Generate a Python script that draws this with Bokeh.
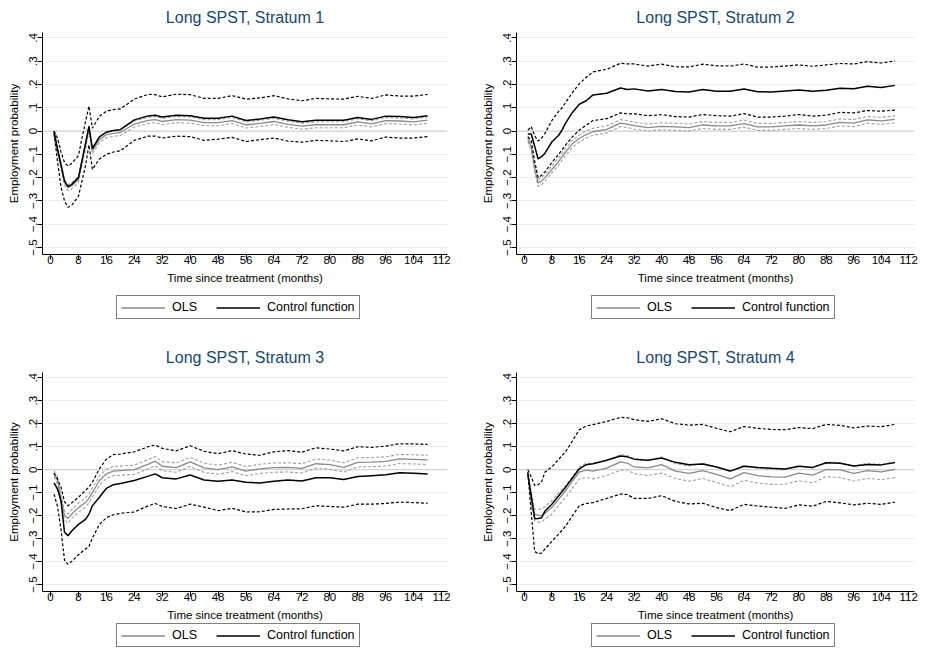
from bokeh.plotting import figure
from bokeh.models import Legend, LegendItem, FixedTicker, Range1d, Span
from bokeh.layouts import column, row
from bokeh.embed import file_html
from bokeh.resources import INLINE

# ---------------- data ----------------
months = [1, 2, 3, 4, 5, 6, 8, 10, 11, 12, 14, 16, 18, 20, 24, 28, 30, 32, 36, 40,
          44, 48, 52, 56, 60, 64, 68, 72, 76, 80, 84, 88, 92, 96, 100, 104, 108]

titles = ["Long SPST, Stratum 1", "Long SPST, Stratum 2",
          "Long SPST, Stratum 3", "Long SPST, Stratum 4"]
legend_labels = ["OLS", "Control function"]

# Stratum 1
s1_cf = [0.0, -0.076, -0.145, -0.215, -0.238, -0.23, -0.2, -0.055, 0.02, -0.075, -0.025, -0.005, 0.002, 0.006, 0.048, 0.065, 0.068, 0.06, 0.068, 0.066,
         0.055, 0.055, 0.064, 0.045, 0.052, 0.06, 0.048, 0.04, 0.046, 0.046, 0.046, 0.058, 0.05, 0.064, 0.062, 0.058, 0.066]
s1_cf_hi = [0.0, -0.03, -0.09, -0.135, -0.15, -0.14, -0.105, 0.04, 0.107, 0.012, 0.063, 0.085, 0.092, 0.095, 0.137, 0.158, 0.156, 0.147, 0.158, 0.156,
            0.14, 0.14, 0.152, 0.137, 0.142, 0.152, 0.138, 0.13, 0.14, 0.138, 0.137, 0.149, 0.14, 0.155, 0.15, 0.15, 0.157]
s1_cf_lo = [-0.01, -0.13, -0.24, -0.3, -0.327, -0.32, -0.28, -0.15, -0.06, -0.165, -0.12, -0.1, -0.09, -0.085, -0.04, -0.022, -0.022, -0.03, -0.022, -0.024,
            -0.04, -0.035, -0.027, -0.045, -0.037, -0.03, -0.043, -0.048, -0.04, -0.042, -0.045, -0.034, -0.042, -0.026, -0.03, -0.03, -0.024]
s1_ols = [-0.01, -0.085, -0.15, -0.22, -0.243, -0.236, -0.208, -0.065, 0.01, -0.085, -0.038, -0.015, -0.01, -0.006, 0.03, 0.046, 0.049, 0.041, 0.049, 0.047,
          0.036, 0.036, 0.045, 0.026, 0.033, 0.041, 0.029, 0.021, 0.027, 0.027, 0.027, 0.039, 0.031, 0.045, 0.043, 0.039, 0.047]
s1_ols_hi = [0.0, -0.072, -0.137, -0.207, -0.23, -0.223, -0.195, -0.052, 0.023, -0.072, -0.025, -0.002, 0.003, 0.007, 0.043, 0.059, 0.062, 0.054, 0.062, 0.06,
             0.049, 0.049, 0.058, 0.039, 0.046, 0.054, 0.042, 0.034, 0.04, 0.04, 0.04, 0.052, 0.044, 0.058, 0.056, 0.052, 0.06]
s1_ols_lo = [-0.02, -0.098, -0.163, -0.233, -0.256, -0.249, -0.221, -0.078, -0.003, -0.098, -0.051, -0.028, -0.023, -0.019, 0.017, 0.033, 0.036, 0.028, 0.036, 0.034,
             0.023, 0.023, 0.032, 0.013, 0.02, 0.028, 0.016, 0.008, 0.014, 0.014, 0.014, 0.026, 0.018, 0.032, 0.03, 0.026, 0.034]

# Stratum 2
s2_cf = [-0.013, -0.013, -0.065, -0.12, -0.11, -0.095, -0.047, -0.018, 0.005, 0.034, 0.08, 0.115, 0.13, 0.155, 0.162, 0.185, 0.178, 0.181, 0.172, 0.178,
         0.17, 0.168, 0.178, 0.171, 0.171, 0.18, 0.169, 0.168, 0.172, 0.176, 0.171, 0.175, 0.184, 0.182, 0.192, 0.187, 0.196]
s2_cf_hi = [0.004, 0.019, -0.02, -0.043, -0.03, -0.01, 0.045, 0.085, 0.1, 0.122, 0.165, 0.203, 0.23, 0.254, 0.265, 0.291, 0.288, 0.288, 0.279, 0.287,
            0.276, 0.275, 0.287, 0.28, 0.279, 0.288, 0.274, 0.275, 0.279, 0.284, 0.278, 0.284, 0.29, 0.288, 0.298, 0.292, 0.301]
s2_cf_lo = [-0.025, -0.04, -0.13, -0.2, -0.19, -0.175, -0.135, -0.1, -0.08, -0.06, -0.025, 0.004, 0.025, 0.045, 0.053, 0.078, 0.074, 0.074, 0.066, 0.07,
            0.062, 0.06, 0.071, 0.066, 0.064, 0.075, 0.06, 0.06, 0.064, 0.071, 0.064, 0.068, 0.08, 0.078, 0.088, 0.085, 0.09]
s2_ols = [-0.032, -0.07, -0.16, -0.223, -0.215, -0.2, -0.165, -0.13, -0.11, -0.09, -0.055, -0.032, -0.015, -0.003, 0.007, 0.034, 0.03, 0.023, 0.015, 0.02,
          0.018, 0.015, 0.026, 0.022, 0.022, 0.032, 0.018, 0.018, 0.022, 0.026, 0.022, 0.026, 0.037, 0.034, 0.048, 0.044, 0.05]
s2_ols_hi = [-0.02, -0.055, -0.145, -0.208, -0.2, -0.185, -0.15, -0.115, -0.095, -0.075, -0.04, -0.017, 0.0, 0.012, 0.022, 0.049, 0.045, 0.038, 0.03, 0.035,
             0.033, 0.03, 0.041, 0.037, 0.037, 0.047, 0.033, 0.033, 0.037, 0.041, 0.037, 0.041, 0.052, 0.049, 0.063, 0.059, 0.065]
s2_ols_lo = [-0.044, -0.085, -0.175, -0.238, -0.23, -0.215, -0.18, -0.145, -0.125, -0.105, -0.07, -0.047, -0.03, -0.018, -0.008, 0.019, 0.015, 0.008, 0.0, 0.005,
             0.003, 0.0, 0.011, 0.007, 0.007, 0.017, 0.003, 0.003, 0.007, 0.011, 0.007, 0.011, 0.022, 0.019, 0.033, 0.029, 0.035]

# Stratum 3
s3_cf = [-0.057, -0.084, -0.135, -0.272, -0.287, -0.268, -0.238, -0.216, -0.194, -0.157, -0.12, -0.081, -0.065, -0.06, -0.047, -0.028, -0.018, -0.035, -0.04, -0.023,
         -0.045, -0.05, -0.045, -0.055, -0.058, -0.05, -0.045, -0.049, -0.035, -0.035, -0.043, -0.03, -0.026, -0.022, -0.013, -0.015, -0.019]
s3_cf_hi = [-0.015, -0.04, -0.076, -0.14, -0.157, -0.145, -0.12, -0.09, -0.076, -0.054, 0.004, 0.046, 0.066, 0.068, 0.078, 0.1, 0.107, 0.093, 0.082, 0.104,
            0.08, 0.07, 0.083, 0.068, 0.063, 0.078, 0.083, 0.076, 0.095, 0.09, 0.082, 0.1, 0.097, 0.103, 0.113, 0.112, 0.11]
s3_cf_lo = [-0.106, -0.16, -0.26, -0.393, -0.412, -0.4, -0.37, -0.345, -0.334, -0.297, -0.238, -0.209, -0.196, -0.19, -0.184, -0.157, -0.147, -0.16, -0.169, -0.15,
            -0.163, -0.178, -0.168, -0.184, -0.183, -0.173, -0.171, -0.17, -0.157, -0.16, -0.163, -0.15, -0.15, -0.147, -0.141, -0.143, -0.146]
s3_ols = [-0.018, -0.047, -0.128, -0.2, -0.212, -0.194, -0.165, -0.143, -0.125, -0.099, -0.047, -0.018, -0.006, -0.004, 0.0, 0.024, 0.037, 0.015, 0.009, 0.034,
          0.008, 0.0, 0.012, -0.006, 0.004, 0.009, 0.01, 0.006, 0.026, 0.022, 0.01, 0.032, 0.033, 0.036, 0.047, 0.045, 0.043]
s3_ols_hi = [-0.005, -0.03, -0.11, -0.18, -0.192, -0.175, -0.145, -0.123, -0.105, -0.079, -0.027, 0.002, 0.014, 0.016, 0.02, 0.044, 0.057, 0.035, 0.029, 0.054,
             0.028, 0.02, 0.032, 0.014, 0.024, 0.029, 0.03, 0.026, 0.046, 0.042, 0.03, 0.052, 0.053, 0.056, 0.067, 0.065, 0.063]
s3_ols_lo = [-0.031, -0.064, -0.146, -0.22, -0.232, -0.213, -0.185, -0.163, -0.145, -0.119, -0.067, -0.038, -0.026, -0.024, -0.02, 0.004, 0.017, -0.005, -0.011, 0.014,
             -0.012, -0.02, -0.008, -0.026, -0.016, -0.011, -0.01, -0.014, 0.006, 0.002, -0.01, 0.012, 0.013, 0.016, 0.027, 0.025, 0.023]

# Stratum 4
s4_cf = [-0.018, -0.113, -0.213, -0.212, -0.209, -0.18, -0.15, -0.113, -0.095, -0.076, -0.036, 0.004, 0.022, 0.026, 0.041, 0.06, 0.056, 0.046, 0.041, 0.051,
         0.032, 0.022, 0.025, 0.012, -0.006, 0.015, 0.01, 0.006, 0.003, 0.015, 0.01, 0.03, 0.028, 0.016, 0.023, 0.021, 0.031]
s4_cf_hi = [0.0, -0.032, -0.069, -0.065, -0.054, -0.01, 0.012, 0.045, 0.062, 0.078, 0.125, 0.174, 0.19, 0.196, 0.21, 0.228, 0.226, 0.218, 0.21, 0.222,
            0.2, 0.194, 0.197, 0.18, 0.165, 0.188, 0.18, 0.175, 0.174, 0.183, 0.179, 0.197, 0.193, 0.182, 0.19, 0.187, 0.197]
s4_cf_lo = [-0.01, -0.187, -0.356, -0.365, -0.363, -0.345, -0.312, -0.28, -0.263, -0.246, -0.2, -0.157, -0.147, -0.143, -0.125, -0.106, -0.108, -0.125, -0.125, -0.113,
            -0.138, -0.149, -0.146, -0.165, -0.178, -0.151, -0.158, -0.163, -0.168, -0.153, -0.159, -0.138, -0.144, -0.153, -0.146, -0.151, -0.141]
s4_ols = [-0.018, -0.128, -0.194, -0.198, -0.2, -0.19, -0.165, -0.128, -0.11, -0.091, -0.05, -0.01, -0.002, -0.006, 0.007, 0.034, 0.029, 0.012, 0.008, 0.022,
          -0.006, -0.016, -0.004, -0.02, -0.04, -0.013, -0.026, -0.031, -0.032, -0.015, -0.024, 0.001, -0.001, -0.016, -0.004, -0.009, 0.001]
s4_ols_hi = [-0.016, -0.1, -0.172, -0.172, -0.172, -0.16, -0.135, -0.1, -0.085, -0.069, -0.03, 0.012, 0.028, 0.026, 0.041, 0.065, 0.062, 0.048, 0.04, 0.055,
             0.026, 0.016, 0.028, 0.012, -0.008, 0.019, 0.006, 0.001, 0.0, 0.017, 0.008, 0.033, 0.031, 0.016, 0.028, 0.023, 0.033]
s4_ols_lo = [-0.02, -0.15, -0.223, -0.228, -0.228, -0.215, -0.194, -0.155, -0.137, -0.12, -0.08, -0.04, -0.034, -0.04, -0.025, -0.003, 0.0, -0.018, -0.025, -0.015,
             -0.038, -0.05, -0.038, -0.055, -0.074, -0.046, -0.058, -0.064, -0.063, -0.048, -0.057, -0.03, -0.034, -0.049, -0.038, -0.043, -0.034]

x_ticks = [0, 8, 16, 24, 32, 40, 48, 56, 64, 72, 80, 88, 96, 104, 112]
y_ticks = [-0.5, -0.4, -0.3, -0.2, -0.1, 0.0, 0.1, 0.2, 0.3, 0.4]
y_tick_labels = ["\u2212.5", "\u2212.4", "\u2212.3", "\u2212.2", "\u2212.1", "0", ".1", ".2", ".3", ".4"]

panels = [
    (s1_ols, s1_ols_hi, s1_ols_lo, s1_cf, s1_cf_hi, s1_cf_lo),
    (s2_ols, s2_ols_hi, s2_ols_lo, s2_cf, s2_cf_hi, s2_cf_lo),
    (s3_ols, s3_ols_hi, s3_ols_lo, s3_cf, s3_cf_hi, s3_cf_lo),
    (s4_ols, s4_ols_hi, s4_ols_lo, s4_cf, s4_cf_hi, s4_cf_lo),
]

FONT = "Liberation Sans"
TITLE_COLOR = "#1a476f"
GRID = "#e6eef0"
ZERO = "#d4d4d4"
OLS_COL = "#8a8a8a"
OLS_CI_COL = "#a0a0a0"
CF_COL = "#000000"

LEFT_W, RIGHT_W = 466, 454
ROW1_FIG_H, ROW1_LEG_H = 286, 54
ROW2_FIG_H, ROW2_LEG_H = 283, 24


def make_panel(i, data):
    left_col = (i % 2 == 0)
    top_row = (i < 2)
    p = figure(width=LEFT_W if left_col else RIGHT_W,
               height=ROW1_FIG_H if top_row else ROW2_FIG_H,
               x_range=Range1d(-2.3, 113.7), y_range=Range1d(-0.53, 0.423),
               output_backend="svg", toolbar_location=None,
               title=titles[i])
    p.min_border_left = 42 if left_col else 50
    p.min_border_right = 19 if left_col else 6
    p.min_border_top = 0
    p.min_border_bottom = 0
    p.background_fill_color = "white"
    p.border_fill_color = "white"
    p.outline_line_color = None

    p.title.align = "center"
    p.title.text_font = FONT
    p.title.text_font_size = "16px"
    p.title.text_font_style = "normal"
    p.title.text_color = TITLE_COLOR
    p.title.standoff = 13

    p.xgrid.visible = False
    p.ygrid.ticker = FixedTicker(ticks=y_ticks)
    p.ygrid.grid_line_color = GRID
    p.ygrid.grid_line_width = 1
    p.add_layout(Span(location=0, dimension="width", line_color=ZERO,
                      line_width=1.2, level="underlay"))

    xa = p.xaxis[0]
    xa.ticker = FixedTicker(ticks=x_ticks)
    xa.axis_label = "Time since treatment (months)"
    ya = p.yaxis[0]
    ya.ticker = FixedTicker(ticks=y_ticks)
    ya.major_label_overrides = {t: l for t, l in zip(y_ticks, y_tick_labels)}
    ya.major_label_orientation = "vertical"
    ya.axis_label = "Employment probability"
    for ax in (xa, ya):
        ax.axis_line_color = "black"
        ax.axis_line_width = 1
        ax.major_tick_line_color = "black"
        ax.major_tick_out = 5
        ax.major_tick_in = 0
        ax.minor_tick_line_color = None
        ax.major_label_text_font = FONT
        ax.major_label_text_font_size = "11.5px"
        ax.major_label_text_color = "black"
        ax.axis_label_text_font = FONT
        ax.axis_label_text_font_size = "11.5px"
        ax.axis_label_text_font_style = "normal"
        ax.axis_label_text_color = "black"
    xa.major_label_standoff = -4
    xa.axis_label_standoff = 5
    ya.major_label_standoff = 0
    ya.axis_label_standoff = 7

    ols, ols_hi, ols_lo, cf, cf_hi, cf_lo = data
    p.line(months, ols_hi, line_color=OLS_CI_COL, line_width=1.1, line_dash="3 2")
    p.line(months, ols_lo, line_color=OLS_CI_COL, line_width=1.1, line_dash="3 2")
    p.line(months, ols, line_color=OLS_COL, line_width=1.3)
    p.line(months, cf_hi, line_color=CF_COL, line_width=1.2, line_dash="3 2")
    p.line(months, cf_lo, line_color=CF_COL, line_width=1.2, line_dash="3 2")
    p.line(months, cf, line_color=CF_COL, line_width=1.5)
    return p


def make_legend_fig(i, data):
    left_col = (i % 2 == 0)
    top_row = (i < 2)
    ols, _, _, cf, _, _ = data
    # a strip below each panel that only holds the panel's legend;
    # its ranges keep the series themselves out of view
    lf = figure(width=LEFT_W if left_col else RIGHT_W,
                height=ROW1_LEG_H if top_row else ROW2_LEG_H,
                x_range=Range1d(0, 1), y_range=Range1d(5, 6),
                output_backend="svg", toolbar_location=None,
                x_axis_location=None, y_axis_location=None, min_border=0)
    lf.grid.visible = False
    lf.outline_line_color = None
    lf.background_fill_color = "white"
    lf.border_fill_color = "white"
    r_ols = lf.line(months, ols, line_color=OLS_COL, line_width=1.3)
    r_cf = lf.line(months, cf, line_color=CF_COL, line_width=1.5)
    items = [LegendItem(label=legend_labels[0], renderers=[r_ols]),
             LegendItem(label=legend_labels[1], renderers=[r_cf])]
    if top_row:
        legend = Legend(items=items, orientation="horizontal",
                        location=(116 if left_col else 125, 21))
    else:
        lf.min_border_left = 116 if left_col else 125
        legend = Legend(items=items, orientation="horizontal", location="top_left")
    legend.border_line_color = "black"
    legend.border_line_width = 1
    legend.background_fill_color = "white"
    legend.padding = 4
    legend.margin = 0
    legend.spacing = 0
    legend.glyph_width = 44
    legend.glyph_height = 13
    legend.label_width = 44
    legend.label_standoff = 7
    legend.label_text_font = FONT
    legend.label_text_font_size = "12.5px"
    legend.label_text_color = "black"
    lf.add_layout(legend, "center")
    return lf


figs = [make_panel(i, d) for i, d in enumerate(panels)]
legs = [make_legend_fig(i, d) for i, d in enumerate(panels)]
layout = column(row(figs[0], figs[1]), row(legs[0], legs[1]),
                row(figs[2], figs[3]), row(legs[2], legs[3]))

open("out.html", "w").write(file_html(layout, INLINE))
